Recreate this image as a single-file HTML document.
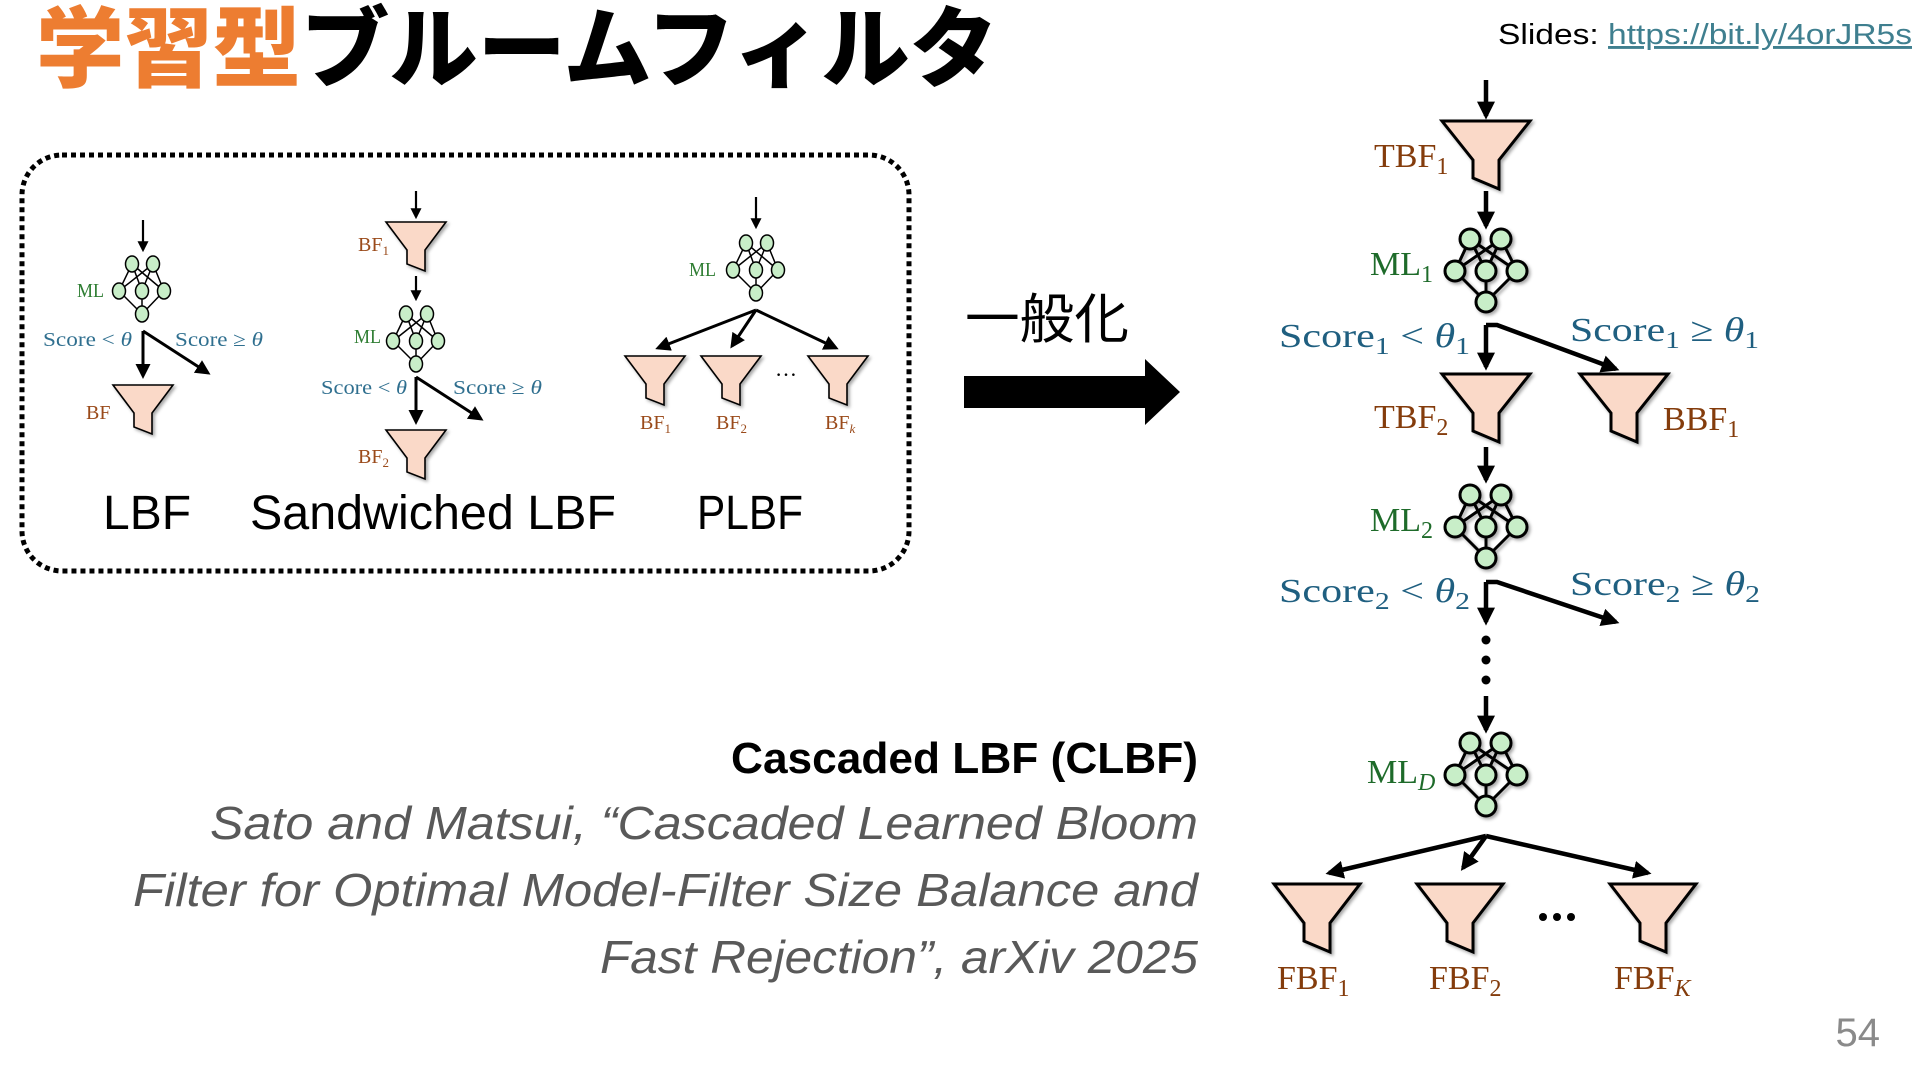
<!DOCTYPE html>
<html><head><meta charset="utf-8"><style>
html,body{margin:0;padding:0;background:#fff;width:1920px;height:1080px;overflow:hidden}
svg{display:block}
.ser{font-family:"Liberation Serif",serif}
.san{font-family:"Liberation Sans","Noto Sans CJK JP",sans-serif}
</style></head><body>
<svg width="1920" height="1080" viewBox="0 0 1920 1080" xmlns="http://www.w3.org/2000/svg">
<defs>
<marker id="ah" viewBox="0 0 10 10" refX="8" refY="5" markerWidth="4" markerHeight="4" orient="auto" markerUnits="strokeWidth"><path d="M0,0 L10,5 L0,10 z" fill="#000"/></marker>
<marker id="ahs" viewBox="0 0 10 10" refX="8" refY="5" markerWidth="5" markerHeight="5" orient="auto" markerUnits="strokeWidth"><path d="M0,0 L10,5 L0,10 z" fill="#000"/></marker>
<filter id="sh" x="-20%" y="-20%" width="150%" height="150%"><feDropShadow dx="2" dy="2" stdDeviation="1.5" flood-opacity="0.35"/></filter>
</defs>

<!-- Title -->
<text x="36" y="80" font-family="'Noto Sans CJK JP',sans-serif" font-weight="900" font-size="88" textLength="962" lengthAdjust="spacingAndGlyphs"><tspan fill="#ed7d31">学習型</tspan><tspan fill="#000">ブルームフィルタ</tspan></text>
<text x="1498" y="44" class="san" font-size="29" textLength="414" lengthAdjust="spacingAndGlyphs"><tspan fill="#000">Slides: </tspan><tspan fill="#3f7f8f" text-decoration="underline">https://bit.ly/4orJR5s</tspan></text>

<!-- dotted box -->
<rect x="22" y="155" width="887" height="416" rx="40" fill="none" stroke="#000" stroke-width="5" stroke-dasharray="5 4"/>

<!-- LBF small -->
<g stroke="#000" stroke-width="2.2" fill="none">
<line x1="143" y1="220" x2="143" y2="250" marker-end="url(#ahs)"/>
<line x1="143" y1="331" x2="143" y2="376" marker-end="url(#ahs)" stroke-width="3"/>
<line x1="143" y1="331" x2="208" y2="373" marker-end="url(#ahs)" stroke-width="3"/>
<line x1="416" y1="191" x2="416" y2="217" marker-end="url(#ahs)"/>
<line x1="416" y1="276" x2="416" y2="299" marker-end="url(#ahs)"/>
<line x1="416" y1="377" x2="416" y2="422" marker-end="url(#ahs)" stroke-width="3"/>
<line x1="416" y1="377" x2="481" y2="419" marker-end="url(#ahs)" stroke-width="3"/>
<line x1="756" y1="197" x2="756" y2="227" marker-end="url(#ahs)"/>
<line x1="756" y1="310" x2="658" y2="348" marker-end="url(#ahs)" stroke-width="3"/>
<line x1="756" y1="310" x2="732" y2="346" marker-end="url(#ahs)" stroke-width="3"/>
<line x1="756" y1="310" x2="836" y2="348" marker-end="url(#ahs)" stroke-width="3"/>
</g>

<!-- small NN -->
<g stroke="#000" stroke-width="1.5" fill="#c8eec8">
<g id="nnS1">
<path d="M132,264 L119,291 M132,264 L142,291 M132,264 L164,291 M153,264 L119,291 M153,264 L142,291 M153,264 L164,291 M119,291 L142,314 M142,291 L142,314 M164,291 L142,314" fill="none"/>
<ellipse cx="132" cy="264" rx="6.5" ry="8"/><ellipse cx="153" cy="264" rx="6.5" ry="8"/>
<ellipse cx="119" cy="291" rx="6.5" ry="8"/><ellipse cx="142" cy="291" rx="6.5" ry="8"/><ellipse cx="164" cy="291" rx="6.5" ry="8"/>
<ellipse cx="142" cy="314" rx="6.5" ry="8"/>
</g>
<use href="#nnS1" transform="translate(274,50)"/>
<use href="#nnS1" transform="translate(614,-21)"/>
</g>

<!-- small funnels -->
<g fill="#fad9c8" stroke="#000" stroke-width="1.6" filter="url(#sh)">
<polygon points="113,385 173,385 152,413 152,434 134,427 134,413"/>
<polygon points="386,222 446,222 425,250 425,271 407,264 407,250"/>
<polygon points="386,430 446,430 425,458 425,479 407,472 407,458"/>
<polygon points="625,356 685,356 664,384 664,405 646,398 646,384"/>
<polygon points="701,356 761,356 740,384 740,405 722,398 722,384"/>
<polygon points="808,356 868,356 847,384 847,405 829,398 829,384"/>
</g>
<text x="775" y="376" class="ser" font-size="22">…</text>

<!-- small labels -->
<g class="ser" font-size="20">
<text x="77" y="297" fill="#2e7d32" textLength="27" lengthAdjust="spacingAndGlyphs">ML</text>
<text x="354" y="343" fill="#2e7d32" textLength="27" lengthAdjust="spacingAndGlyphs">ML</text>
<text x="689" y="276" fill="#2e7d32" textLength="27" lengthAdjust="spacingAndGlyphs">ML</text>
<text x="43" y="346" fill="#2f6f8f" textLength="89" lengthAdjust="spacingAndGlyphs">Score &lt; <tspan font-style="italic">θ</tspan></text>
<text x="175" y="346" fill="#2f6f8f" textLength="88" lengthAdjust="spacingAndGlyphs">Score ≥ <tspan font-style="italic">θ</tspan></text>
<text x="321" y="394" fill="#2f6f8f" textLength="86" lengthAdjust="spacingAndGlyphs">Score &lt; <tspan font-style="italic">θ</tspan></text>
<text x="453" y="394" fill="#2f6f8f" textLength="89" lengthAdjust="spacingAndGlyphs">Score ≥ <tspan font-style="italic">θ</tspan></text>
<g fill="#9a4a1a">
<text x="86" y="419">BF</text>
<text x="358" y="251">BF<tspan font-size="13" dy="4">1</tspan></text>
<text x="358" y="463">BF<tspan font-size="13" dy="4">2</tspan></text>
<text x="640" y="429">BF<tspan font-size="13" dy="4">1</tspan></text>
<text x="716" y="429">BF<tspan font-size="13" dy="4">2</tspan></text>
<text x="825" y="429">BF<tspan font-size="13" dy="4" font-style="italic">k</tspan></text>
</g>
</g>
<g class="san" font-size="48" fill="#000">
<text x="103" y="529">LBF</text>
<text x="250" y="529" textLength="366" lengthAdjust="spacingAndGlyphs">Sandwiched LBF</text>
<text x="697" y="529" textLength="106" lengthAdjust="spacingAndGlyphs">PLBF</text>
</g>

<!-- 一般化 + big arrow -->
<text x="965" y="338" font-family="'Noto Sans CJK JP',sans-serif" font-size="54" fill="#000" textLength="164" lengthAdjust="spacingAndGlyphs">一般化</text>
<polygon points="964,376 1145,376 1145,359 1180,392 1145,425 1145,408 964,408" fill="#000"/>

<!-- Bottom-left text -->
<g class="san" text-anchor="end">
<text x="1198" y="773" font-size="44" font-weight="bold" fill="#000" textLength="467" lengthAdjust="spacingAndGlyphs">Cascaded LBF (CLBF)</text>
<g font-size="46" font-style="italic" fill="#595959">
<text x="1198" y="839" textLength="988" lengthAdjust="spacingAndGlyphs">Sato and Matsui, “Cascaded Learned Bloom</text>
<text x="1198" y="906" textLength="1065" lengthAdjust="spacingAndGlyphs">Filter for Optimal Model-Filter Size Balance and</text>
<text x="1198" y="973" textLength="598" lengthAdjust="spacingAndGlyphs">Fast Rejection”, arXiv 2025</text>
</g>
</g>
<text x="1880" y="1046" class="san" font-size="40" fill="#8a8a8a" text-anchor="end">54</text>

<!-- Right diagram arrows -->
<g stroke="#000" stroke-width="4.5" fill="none">
<line x1="1486" y1="80" x2="1486" y2="116" marker-end="url(#ah)"/>
<line x1="1486" y1="191" x2="1486" y2="226" marker-end="url(#ah)"/>
<line x1="1486" y1="325" x2="1486" y2="367" marker-end="url(#ah)"/>
<polyline points="1486,325 1497,325 1616,369" marker-end="url(#ah)"/>
<line x1="1486" y1="447" x2="1486" y2="480" marker-end="url(#ah)"/>
<line x1="1486" y1="582" x2="1486" y2="622" marker-end="url(#ah)"/>
<polyline points="1486,582 1497,582 1616,622" marker-end="url(#ah)"/>
<line x1="1486" y1="696" x2="1486" y2="730" marker-end="url(#ah)"/>
<line x1="1486" y1="836" x2="1329" y2="873" marker-end="url(#ah)"/>
<line x1="1486" y1="836" x2="1463" y2="868" marker-end="url(#ah)"/>
<line x1="1486" y1="836" x2="1648" y2="873" marker-end="url(#ah)"/>
</g>
<g fill="#000"><circle cx="1486" cy="640" r="4.5"/><circle cx="1486" cy="660" r="4.5"/><circle cx="1486" cy="680" r="4.5"/>
<circle cx="1543" cy="917" r="4"/><circle cx="1557" cy="917" r="4"/><circle cx="1571" cy="917" r="4"/></g>

<!-- big NN -->
<g stroke="#000" stroke-width="3" fill="#c8eec8" filter="url(#sh)">
<g id="nnB">
<path d="M1470,239 L1455,271 M1470,239 L1486,271 M1470,239 L1517,271 M1501,239 L1455,271 M1501,239 L1486,271 M1501,239 L1517,271 M1455,271 L1486,302 M1486,271 L1486,302 M1517,271 L1486,302" fill="none"/>
<circle cx="1470" cy="239" r="10"/><circle cx="1501" cy="239" r="10"/>
<circle cx="1455" cy="271" r="10"/><circle cx="1486" cy="271" r="10"/><circle cx="1517" cy="271" r="10"/>
<circle cx="1486" cy="302" r="10"/>
</g>
<use href="#nnB" transform="translate(0,256)"/>
<use href="#nnB" transform="translate(0,504)"/>
</g>

<!-- big funnels -->
<g fill="#fad9c8" stroke="#000" stroke-width="3" filter="url(#sh)">
<polygon points="1442,121 1530,121 1499,160 1499,189 1473,178 1473,160"/>
<polygon points="1442,374 1530,374 1499,413 1499,442 1473,431 1473,413"/>
<polygon points="1580,374 1668,374 1637,413 1637,442 1611,431 1611,413"/>
<polygon points="1274,884 1360,884 1330,923 1330,952 1304,941 1304,923"/>
<polygon points="1417,884 1503,884 1473,923 1473,952 1447,941 1447,923"/>
<polygon points="1610,884 1696,884 1666,923 1666,952 1640,941 1640,923"/>
</g>

<!-- big labels -->
<g class="ser" font-size="34">
<g fill="#843c0c">
<text x="1374" y="167">TBF<tspan font-size="24" dy="7">1</tspan></text>
<text x="1374" y="428">TBF<tspan font-size="24" dy="7">2</tspan></text>
<text x="1663" y="430">BBF<tspan font-size="24" dy="7">1</tspan></text>
<text x="1277" y="989">FBF<tspan font-size="24" dy="7">1</tspan></text>
<text x="1429" y="989">FBF<tspan font-size="24" dy="7">2</tspan></text>
<text x="1614" y="989">FBF<tspan font-size="24" dy="7" font-style="italic">K</tspan></text>
</g>
<g fill="#1e6b2a">
<text x="1370" y="275">ML<tspan font-size="24" dy="7">1</tspan></text>
<text x="1370" y="531">ML<tspan font-size="24" dy="7">2</tspan></text>
<text x="1367" y="783">ML<tspan font-size="24" dy="7" font-style="italic">D</tspan></text>
</g>
<g fill="#1f5f80">
<text x="1279" y="347" textLength="191" lengthAdjust="spacingAndGlyphs">Score<tspan font-size="24" dy="7">1</tspan><tspan dy="-7"> &lt; </tspan><tspan font-style="italic">θ</tspan><tspan font-size="24" dy="7">1</tspan></text>
<text x="1570" y="341" textLength="189" lengthAdjust="spacingAndGlyphs">Score<tspan font-size="24" dy="7">1</tspan><tspan dy="-7"> ≥ </tspan><tspan font-style="italic">θ</tspan><tspan font-size="24" dy="7">1</tspan></text>
<text x="1279" y="602" textLength="191" lengthAdjust="spacingAndGlyphs">Score<tspan font-size="24" dy="7">2</tspan><tspan dy="-7"> &lt; </tspan><tspan font-style="italic">θ</tspan><tspan font-size="24" dy="7">2</tspan></text>
<text x="1570" y="595" textLength="190" lengthAdjust="spacingAndGlyphs">Score<tspan font-size="24" dy="7">2</tspan><tspan dy="-7"> ≥ </tspan><tspan font-style="italic">θ</tspan><tspan font-size="24" dy="7">2</tspan></text>
</g>
</g>
</svg>
</body></html>
